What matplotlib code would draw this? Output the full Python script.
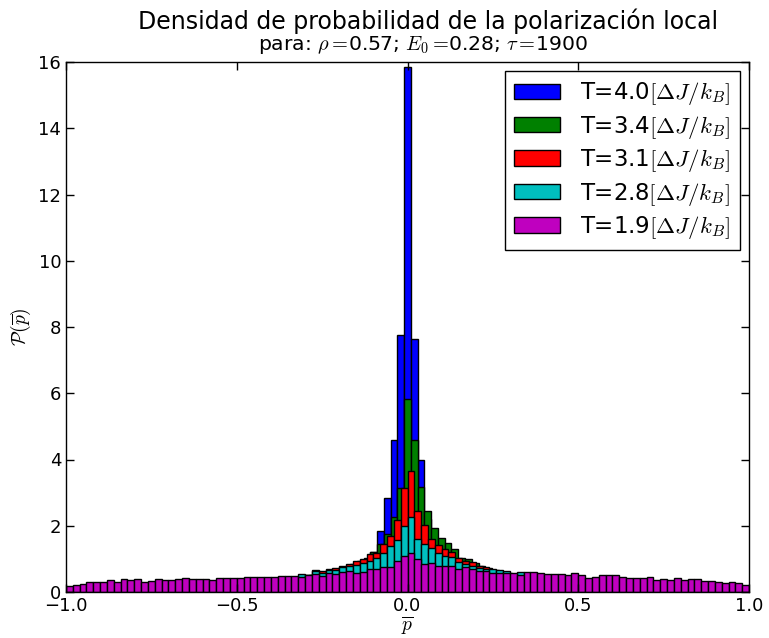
import numpy as np
import matplotlib
matplotlib.use('Agg')
import matplotlib.pyplot as plt

plt.rcParams['mathtext.fontset'] = 'cm'
plt.rcParams['font.family'] = ['DejaVu Sans']

# bin ranges (100 bins each)
n_bins = 100
range_a = (-1.0, 1.0)    # T=3.1, 2.8, 1.9
range_b = (-0.98, 1.0)   # T=4.0, 3.4

labels = [r'T=4.0$[\Delta J/k_B]$', r'T=3.4$[\Delta J/k_B]$', r'T=3.1$[\Delta J/k_B]$',
          r'T=2.8$[\Delta J/k_B]$', r'T=1.9$[\Delta J/k_B]$']
colors = ['b', 'g', 'r', 'c', 'm']

# T=4.0, bins 36..62 of range_b
t40_start = 36
t40 = [0.30, 0.33, 0.36, 0.40, 0.45, 0.55, 0.70, 0.90, 1.20,
       1.85, 2.83, 4.59, 7.76, 15.85, 7.63, 4.00, 2.20, 1.60,
       1.20, 1.00, 0.80, 0.65, 0.55, 0.48, 0.42, 0.38, 0.35]

# T=3.4, bins 30..70 of range_b
t34_start = 30
t34 = [0.40, 0.42, 0.44, 0.46, 0.48, 0.52, 0.56, 0.60, 0.65, 0.70,
       0.75, 0.85, 0.95, 1.03, 1.22, 1.45, 1.75, 2.25, 3.15, 5.83,
       4.59, 3.18, 2.44, 1.94, 1.64, 1.49, 1.29, 1.02, 0.99, 0.89,
       0.80, 0.72, 0.66, 0.60, 0.56, 0.52, 0.50, 0.47, 0.45, 0.43, 0.41]

# T=3.1, bins 30..70 of range_a
t31_start = 30
t31 = [0.40, 0.42, 0.43, 0.45, 0.47, 0.52, 0.66, 0.62, 0.70, 0.72,
       0.80, 0.86, 0.93, 1.00, 1.14, 1.19, 1.44, 1.68, 2.18, 3.13,
       3.66, 2.46, 2.02, 1.60, 1.42, 1.30, 1.20, 1.02, 0.93, 0.90,
       0.80, 0.74, 0.66, 0.62, 0.58, 0.55, 0.53, 0.50, 0.48, 0.46, 0.44]

# T=2.8, bins 30..70 of range_a
t28_start = 30
t28 = [0.40, 0.42, 0.44, 0.45, 0.54, 0.50, 0.62, 0.57, 0.66, 0.66,
       0.76, 0.78, 0.82, 0.87, 0.93, 1.03, 1.17, 1.38, 1.57, 2.00,
       2.27, 1.59, 1.44, 1.32, 1.19, 1.09, 1.07, 0.92, 0.84, 0.77,
       0.72, 0.70, 0.69, 0.66, 0.62, 0.55, 0.60, 0.52, 0.50, 0.48, 0.45]

# T=1.9, all 100 bins of range_a
t19_start = 0
t19 = [0.17, 0.21, 0.25, 0.30, 0.29, 0.29, 0.35, 0.30, 0.38, 0.35,
       0.38, 0.31, 0.34, 0.38, 0.37, 0.36, 0.38, 0.42, 0.40, 0.38,
       0.38, 0.35, 0.43, 0.41, 0.42, 0.43, 0.45, 0.46, 0.44, 0.45,
       0.45, 0.49, 0.47, 0.49, 0.44, 0.52, 0.55, 0.49, 0.58, 0.54,
       0.61, 0.63, 0.58, 0.61, 0.69, 0.68, 0.74, 0.76, 0.94, 1.10,
       1.19, 0.99, 0.86, 0.89, 0.80, 0.77, 0.77, 0.70, 0.74, 0.68,
       0.62, 0.62, 0.56, 0.56, 0.56, 0.58, 0.50, 0.60, 0.60, 0.58,
       0.55, 0.53, 0.53, 0.51, 0.56, 0.50, 0.43, 0.45, 0.50, 0.50,
       0.50, 0.44, 0.43, 0.42, 0.42, 0.46, 0.36, 0.38, 0.36, 0.41,
       0.36, 0.39, 0.39, 0.33, 0.33, 0.31, 0.28, 0.30, 0.28, 0.21]

series = [(t40, t40_start, range_b), (t34, t34_start, range_b), (t31, t31_start, range_a),
          (t28, t28_start, range_a), (t19, t19_start, range_a)]

fig = plt.figure(figsize=(7.69, 6.38), dpi=100)
ax = fig.add_axes([66/769, 1-592/638, (749-66)/769, (592-62)/638])

for (vals, start, rng), col, lab in zip(series, colors, labels):
    edges = np.linspace(rng[0], rng[1], n_bins + 1)
    w = edges[1] - edges[0]
    left = edges[start:start + len(vals)]
    ax.bar(left, vals, width=w, align='edge', color=col, edgecolor='k',
           linewidth=1.0, label=lab)

ax.set_xlim(-1, 1)
ax.set_ylim(0, 16)
ax.set_xticks([-1.0, -0.5, 0.0, 0.5, 1.0])
ax.set_xticklabels(['\u22121.0', '\u22120.5', '0.0', '0.5', '1.0'])
ax.set_yticks(np.arange(0, 17, 2))
ax.tick_params(direction='in', top=True, right=True, labelsize=13, length=6, width=1)
for s in ax.spines.values():
    s.set_linewidth(1.0)

ax.set_xlabel(r'$\overline{p}$', fontsize=14, labelpad=0)
ax.set_ylabel(r'$\mathcal{P}(\overline{p})$', fontsize=14)

# two-line title
fig.text(428/769, 1 - 21/638, 'Densidad de probabilidad de la polarización local',
         ha='center', va='center', fontsize=17)
fig.text(423/769, 1 - 45/638, r'para: $\rho=\!$0.57; $E_0=\!$0.28; $\tau=\!$1900',
         ha='center', va='center', fontsize=14.7)

leg = ax.legend(loc='upper right', fontsize=16.5, fancybox=False, framealpha=1,
                edgecolor='k', handlelength=2.0, handleheight=0.65, borderpad=0.4,
                labelspacing=0.28, borderaxespad=0.4, handletextpad=0.9)
leg.get_frame().set_linewidth(1.0)

fig.savefig('out.png', dpi=100)
